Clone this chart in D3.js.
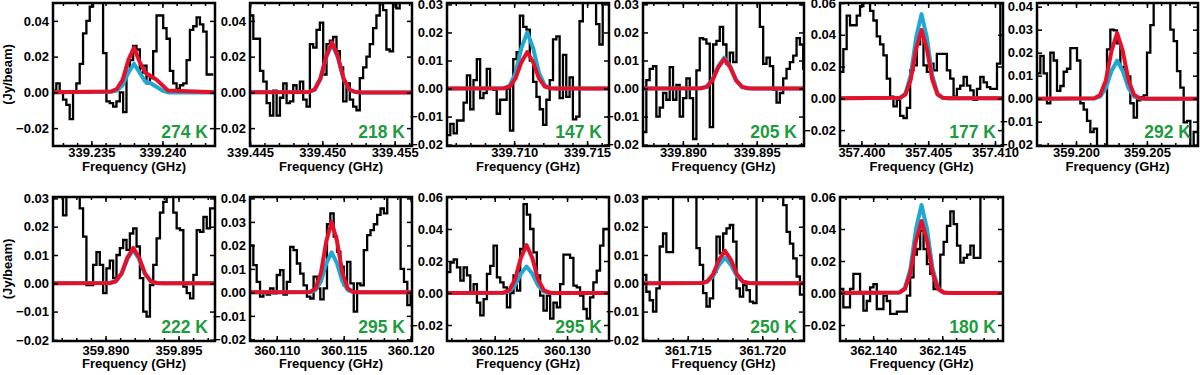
<!DOCTYPE html>
<html><head><meta charset="utf-8">
<script src="https://cdn.jsdelivr.net/npm/d3@7"></script>
<style>
body{margin:0;background:#fff}
svg text{font-family:"Liberation Sans",Arial,Helvetica,sans-serif;font-weight:bold}
</style>
</head><body>
<svg id="chart" width="1200" height="375"></svg>
<script>
// ---------------- DATA ----------------
const panelTemps = ["274 K","218 K","147 K","205 K","177 K","292 K","222 K","295 K","295 K","250 K","180 K"];
const xDomains = [[339.2323,339.2437],[339.445,339.4562],[339.7054,339.7165],[339.8873,339.8982],[357.3984,357.4106],[359.19725,359.2086],[359.8864,359.8975],[360.108,360.1201],[360.1217,360.1329],[361.712,361.7228],[362.1376,362.1494]];
const yDomains = [[-0.03,0.05],[-0.03,0.05],[-0.0205,0.0305],[-0.0205,0.0305],[-0.03,0.06],[-0.0206,0.0416],[-0.0204,0.0305],[-0.0207,0.0406],[-0.03,0.06],[-0.0204,0.0305],[-0.03,0.06]];
const xTicks = [[339.235,339.240],[339.445,339.450,339.455],[339.710,339.715],[339.890,339.895],[357.400,357.405,357.410],[359.200,359.205],[359.890,359.895],[360.110,360.115,360.120],[360.125,360.130],[361.715,361.720],[362.140,362.145]];
const yTicks = [[-0.02,0,0.02,0.04],[-0.02,0,0.02,0.04],[-0.02,-0.01,0,0.01,0.02,0.03],[-0.02,-0.01,0,0.01,0.02,0.03],[-0.02,0,0.02,0.04,0.06],[-0.02,-0.01,0,0.01,0.02,0.03,0.04],[-0.02,-0.01,0,0.01,0.02,0.03],[-0.02,-0.01,0,0.01,0.02,0.03,0.04],[-0.02,0,0.02,0.04,0.06],[-0.02,-0.01,0,0.01,0.02,0.03],[-0.02,0,0.02,0.04,0.06]];
const chanStart = [339.2323,339.445,339.7054,339.8873,357.3984,359.19725,359.8864,360.108,360.1217,361.712,362.1376];
const chanWidth = [0.000235,0.00023,0.000227,0.000226,0.00025,0.000235,0.000229,0.00025,0.00023,0.000224,0.000242];
const lineCentres = [339.2380,339.45067,339.7109,339.8928,357.4045,359.2029,359.8919,360.1141,360.1272,361.7175,362.1435];

const spectrum1 = [0.001,0.005,0.0,-0.004,-0.007,-0.015,0.0,0.005,0.016,0.033,0.040,0.048,0.07,0.07,0.07,0.022,-0.005,-0.006,-0.008,-0.005,0.0,-0.011,0.012,0.018,0.026,0.024,0.011,0.015,0.005,0.008,0.023,0.043,0.043,0.036,0.030,0.012,0.005,0.002,0.004,0.005,0.018,0.035,0.037,0.042,0.038,0.034,0.010,0.010];
const spectrum2 = [0.043,0.030,0.030,0.012,0.006,-0.006,-0.013,0.001,-0.013,-0.003,0.005,-0.006,-0.005,0.004,0.0,0.006,-0.004,-0.008,0.027,0.025,0.035,0.039,0.010,0.027,0.029,0.031,0.023,0.014,-0.005,0.005,-0.004,-0.008,-0.010,0.008,0.014,0.020,0.027,0.036,0.043,0.07,0.046,0.024,0.023,0.07,0.047,0.07,0.07,0.07];
const spectrum3 = [-0.0166,-0.0126,-0.016,-0.0114,-0.0114,-0.005,0.0047,-0.0074,0.003,0.0105,-0.0034,-0.0016,0.007,0.0,-0.0005,-0.009,-0.004,-0.004,0.0,-0.015,0.0105,0.013,0.026,0.022,0.021,0.010,0.0024,-0.003,-0.0074,-0.013,-0.004,0.003,0.0175,0.0186,-0.0034,0.012,-0.003,0.004,-0.011,-0.010,0.024,0.04,0.04,0.04,0.04,0.023,0.0157,0.04,0.04];
const spectrum4 = [-0.0155,0.003,0.007,0.008,-0.010,-0.0068,-0.0016,-0.004,0.0076,-0.004,0.0013,-0.010,-0.0034,0.0036,-0.0034,-0.018,0.0065,0.018,0.0175,0.016,-0.0138,0.0157,0.017,0.022,0.0157,0.0088,0.0128,0.0094,0.04,0.04,0.04,0.04,0.04,0.04,0.04,0.022,0.0088,0.011,0.008,-0.0005,-0.005,-0.0016,0.0036,0.007,0.0094,0.0117,0.018,0.0157,0.007];
const spectrum5 = [0.0166,0.031,0.052,0.046,0.046,0.052,0.058,0.07,0.07,0.055,0.049,0.039,0.034,0.027,0.0124,0.001,-0.005,-0.001,-0.011,-0.0124,-0.006,0.0176,0.0207,0.034,0.040,0.0207,0.0166,0.0218,0.0176,0.028,0.028,0.028,0.0176,0.0124,0.001,0.006,0.008,0.0135,0.008,0.005,-0.001,0.006,0.0135,0.010,0.007,0.006,0.006,0.0218,0.07];
const spectrum6 = [0.011,0.0186,0.011,-0.002,0.020,0.0166,0.0034,0.0055,0.0117,0.013,0.022,0.022,0.0166,-0.002,-0.0048,-0.0097,-0.0145,-0.013,-0.04,-0.04,-0.04,0.0214,0.030,0.0297,0.024,0.0138,0.0124,0.0097,-0.002,-0.0083,-0.0007,0.0007,0.0014,0.02,0.032,0.05,0.05,0.05,0.05,0.05,0.030,0.025,0.012,0.0048,-0.0103,-0.0097,-0.04,-0.0145,-0.0145];
const spectrum7 = [0.04,0.04,0.04,0.024,0.04,0.04,0.04,0.04,0.0265,0.0165,-0.0006,-0.0006,0.0065,0.011,0.0065,-0.0035,0.0053,0.008,0.0018,0.010,0.0124,0.0153,0.0118,0.0176,0.0194,0.013,0.0018,-0.010,-0.0118,-0.0006,0.0065,0.0159,0.025,0.0288,0.04,0.04,0.025,0.0194,0.0188,-0.0012,-0.0035,-0.0053,0.003,0.0188,0.0182,0.0235,0.0194,0.0265,0.0265];
const spectrum8 = [0.020,0.0116,0.0045,-0.0018,0.0,-0.001,0.0017,-0.0004,0.0074,0.0095,-0.001,0.0045,0.0194,0.018,0.0123,0.008,0.003,-0.0018,-0.0026,0.0067,0.0017,-0.003,0.0017,0.029,0.0336,0.0237,0.0173,0.011,0.003,0.013,0.0038,-0.0082,0.0038,0.003,0.018,0.0244,0.0265,0.029,0.033,0.0357,0.0336,0.05,0.05,0.05,0.05,0.010,0.0045,-0.0054,0.0];
const spectrum9 = [0.013,0.019,0.021,0.016,0.0077,0.016,0.011,0.0,0.0056,-0.006,-0.014,-0.0038,0.012,0.017,0.0296,0.0098,0.0067,0.0035,-0.009,0.0,0.011,0.0015,0.0275,0.0556,0.049,0.040,0.0254,0.011,-0.0017,-0.011,-0.0017,-0.016,-0.006,-0.009,0.0056,0.024,0.024,0.022,0.0046,0.0035,-0.0017,-0.010,-0.016,-0.0027,0.0067,0.014,0.0296,0.040,0.040];
const spectrum10 = [0.003,-0.003,-0.006,-0.010,-0.0018,0.013,0.0176,0.011,0.011,0.04,0.04,0.04,0.04,0.04,0.04,0.04,0.0124,0.0065,-0.0035,-0.0082,-0.0053,0.004,0.0165,0.0106,0.0176,0.0194,0.0206,0.0147,-0.0018,-0.0047,-0.0006,-0.0024,-0.0065,-0.007,0.04,0.04,0.04,0.04,0.04,0.04,0.04,0.04,0.0276,0.0182,0.014,0.0088,0.0024,-0.004,-0.004];
const spectrum11 = [0.0025,-0.009,-0.009,0.0025,0.012,0.012,0.0,-0.011,-0.005,0.0035,0.0056,-0.010,-0.010,-0.0017,-0.005,-0.013,-0.013,-0.0117,-0.0117,-0.0117,-0.0017,0.0098,0.024,0.0275,0.039,0.0275,0.018,0.012,0.0025,0.0035,0.024,0.032,0.042,0.051,0.043,0.0296,0.019,0.022,0.024,0.0296,0.022,0.022,0.08,0.08,0.08,0.08,0.08,0.08,0.08];

// model curves sampled at these offsets (GHz) from the line centre
const modelOffsets = [-0.0016,-0.0012,-0.0008,-0.0004,0,0.0004,0.0008,0.0012,0.0016,0.002,0.0024];
const redModel1 = [0.0005,0.002,0.007,0.018,0.025,0.017,0.011,0.009,0.007,0.004,0.001];
const cyanModel1 = [0.0003,0.001,0.004,0.011,0.016,0.011,0.006,0.005,0.003,0.001,0];
const redModel2 = [0.0002,0.0016,0.0078,0.0203,0.028,0.0203,0.0078,0.0016,0.0002,0,0];
const cyanModel2 = [0.0002,0.0015,0.0075,0.0196,0.027,0.0196,0.0075,0.0015,0.0002,0,0];
const redModel3 = [0.0001,0.0007,0.0036,0.0094,0.013,0.0094,0.0036,0.0007,0.0001,0,0];
const cyanModel3 = [0.0001,0.0011,0.0056,0.0145,0.020,0.0145,0.0056,0.0011,0.0001,0,0];
const redModel4 = [0.0001,0.0006,0.0029,0.0076,0.0105,0.0076,0.0029,0.0006,0.0001,0,0];
const cyanModel4 = [0.0001,0.0006,0.0031,0.008,0.011,0.008,0.0031,0.0006,0.0001,0,0];
const redModel5 = [0.0003,0.0024,0.012,0.0312,0.043,0.0312,0.012,0.0024,0.0003,0,0];
const cyanModel5 = [0.0003,0.003,0.0147,0.0385,0.053,0.0385,0.0147,0.003,0.0003,0,0];
const redModel6 = [0.0002,0.0016,0.0079,0.0207,0.0285,0.0207,0.0079,0.0016,0.0002,0,0];
const cyanModel6 = [0.0001,0.0009,0.0046,0.012,0.0165,0.012,0.0046,0.0009,0.0001,0,0];
const redModel7 = [0.0001,0.0007,0.0035,0.0091,0.0125,0.0091,0.0035,0.0007,0.0001,0,0];
const cyanModel7 = [0.0001,0.0007,0.0033,0.0086,0.0118,0.0086,0.0033,0.0007,0.0001,0,0];
const redModel8 = [0.0002,0.0017,0.0083,0.0218,0.030,0.0218,0.0083,0.0017,0.0002,0,0];
const cyanModel8 = [0.0001,0.001,0.0047,0.0123,0.017,0.0123,0.0047,0.001,0.0001,0,0];
const redModel9 = [0.0002,0.0017,0.0083,0.0218,0.030,0.0218,0.0083,0.0017,0.0002,0,0];
const cyanModel9 = [0.0001,0.0009,0.0046,0.012,0.0165,0.012,0.0046,0.0009,0.0001,0,0];
const redModel10 = [0.0001,0.0006,0.0032,0.0083,0.0115,0.0083,0.0032,0.0006,0.0001,0,0];
const cyanModel10 = [0.0001,0.0005,0.0025,0.0065,0.009,0.0065,0.0025,0.0005,0.0001,0,0];
const redModel11 = [0.0003,0.0025,0.0125,0.0327,0.045,0.0327,0.0125,0.0025,0.0003,0,0];
const cyanModel11 = [0.0003,0.0031,0.0153,0.04,0.055,0.04,0.0153,0.0031,0.0003,0,0];

const spectra = [spectrum1,spectrum2,spectrum3,spectrum4,spectrum5,spectrum6,spectrum7,spectrum8,spectrum9,spectrum10,spectrum11];
const redModels = [redModel1,redModel2,redModel3,redModel4,redModel5,redModel6,redModel7,redModel8,redModel9,redModel10,redModel11];
const cyanModels = [cyanModel1,cyanModel2,cyanModel3,cyanModel4,cyanModel5,cyanModel6,cyanModel7,cyanModel8,cyanModel9,cyanModel10,cyanModel11];

// ---------------- LAYOUT ----------------
const colLeft = [53,250,447,643,840,1037];
const panelW = [162,162,162,161,163,161];
const rowTop = [3,197];
const rowBottom = [146,341];
const tickPad = [2,5];        // per row
const titleOffset = [25,27];  // per row
const RED = "#e5112b", CYAN = "#1fa8d2", GREEN = "#1e9b3e";

const svg = d3.select("#chart");
svg.append("rect").attr("width",1200).attr("height",375).attr("fill","#fff");

const fmt = d3.format(".2f");

spectra.forEach((spec, i) => {
  const row = i < 6 ? 0 : 1;
  const col = i < 6 ? i : i - 6;
  const x0 = colLeft[col], x1 = x0 + panelW[col];
  const y0 = rowTop[row], y1 = rowBottom[row];
  const x = d3.scaleLinear().domain(xDomains[i]).range([x0, x1]);
  const y = d3.scaleLinear().domain(yDomains[i]).range([y1, y0]);
  const g = svg.append("g");

  const cid = "clip" + i;
  svg.append("clipPath").attr("id", cid).append("rect")
    .attr("x", x0).attr("y", y0).attr("width", x1 - x0).attr("height", y1 - y0);

  const plot = g.append("g").attr("clip-path", `url(#${cid})`);

  // observed spectrum as histogram
  const pts = spec.map((v, k) => [chanStart[i] + k * chanWidth[i], v]);
  pts.push([chanStart[i] + spec.length * chanWidth[i], spec[spec.length - 1]]);
  const stepLine = d3.line().x(d => x(d[0])).y(d => y(d[1])).curve(d3.curveStepAfter);
  plot.append("path").attr("d", stepLine(pts)).attr("fill","none")
    .attr("stroke","#000").attr("stroke-width",2.3).attr("stroke-linejoin","miter");

  // model curves
  const modelLine = d3.line().x(d => x(d[0])).y(d => y(d[1]));
  const modelPts = arr => [[xDomains[i][0], 0]]
      .concat(modelOffsets.map((o, k) => [lineCentres[i] + o, arr[k]]))
      .concat([[xDomains[i][1], 0]]);
  plot.append("path").attr("d", modelLine(modelPts(cyanModels[i]))).attr("fill","none")
    .attr("stroke", CYAN).attr("stroke-width",4).attr("stroke-linejoin","round");
  plot.append("path").attr("d", modelLine(modelPts(redModels[i]))).attr("fill","none")
    .attr("stroke", RED).attr("stroke-width",4).attr("stroke-linejoin","round");

  // axes
  const minor = d3.range(Math.ceil(xDomains[i][0] / 0.001) * 0.001, xDomains[i][1], 0.001);
  const styleAxis = sel => {
    sel.select(".domain").remove();
    sel.selectAll("line").attr("stroke","#000").attr("stroke-width",1.5);
    sel.selectAll("text").attr("font-size",13).attr("fill","#000")
      .attr("font-family",'"Liberation Sans",Arial,Helvetica,sans-serif').attr("font-weight","bold");
  };
  g.append("g").attr("transform",`translate(0,${y1})`)
    .call(d3.axisBottom(x).tickValues(xTicks[i]).tickSize(-5).tickPadding(tickPad[row]).tickFormat(d3.format(".3f"))).call(styleAxis);
  g.append("g").attr("transform",`translate(0,${y1})`)
    .call(d3.axisBottom(x).tickValues(minor).tickSize(-3).tickFormat("")).call(styleAxis);
  g.append("g").attr("transform",`translate(0,${y0})`)
    .call(d3.axisTop(x).tickValues(xTicks[i]).tickSize(-5).tickFormat("")).call(styleAxis);
  g.append("g").attr("transform",`translate(0,${y0})`)
    .call(d3.axisTop(x).tickValues(minor).tickSize(-3).tickFormat("")).call(styleAxis);
  g.append("g").attr("transform",`translate(${x0},0)`)
    .call(d3.axisLeft(y).tickValues(yTicks[i]).tickSize(-5).tickPadding(4).tickFormat(fmt)).call(styleAxis);
  g.append("g").attr("transform",`translate(${x1},0)`)
    .call(d3.axisRight(y).tickValues(yTicks[i]).tickSize(-5).tickFormat("")).call(styleAxis);

  // frame
  g.append("rect").attr("x",x0).attr("y",y0).attr("width",x1-x0).attr("height",y1-y0)
    .attr("fill","none").attr("stroke","#000").attr("stroke-width",2.5);

  // x title
  g.append("text").attr("x",(x0+x1)/2).attr("y",y1+titleOffset[row]).attr("text-anchor","middle")
    .attr("font-size",13).text("Frequency (GHz)");

  // temperature label
  g.append("text").attr("x",x1-7).attr("y",y1-8).attr("text-anchor","end")
    .attr("font-size",17.5).attr("fill",GREEN).text(panelTemps[i]);
});

// y title per row
rowTop.forEach((t, r) => {
  svg.append("text").attr("transform",`translate(12,${(t + rowBottom[r])/2}) rotate(-90)`)
    .attr("text-anchor","middle").attr("font-size",13).text("(Jy/beam)");
});
</script>
</body></html>
